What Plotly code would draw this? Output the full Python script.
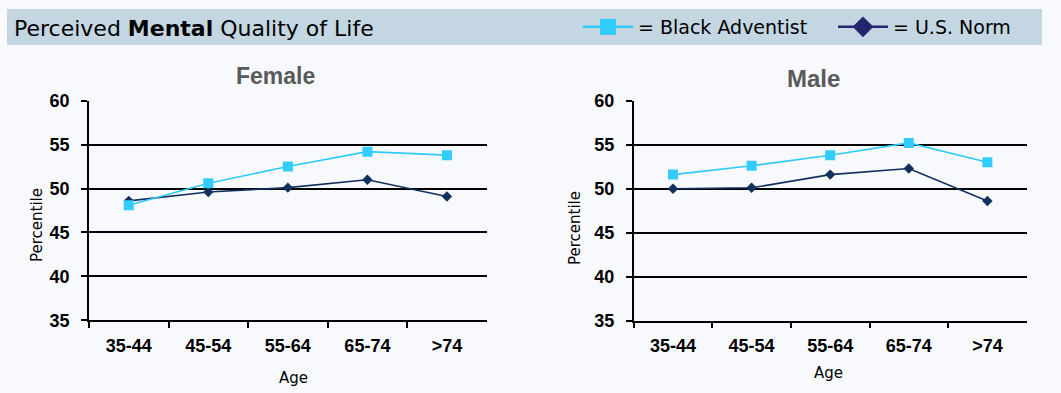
import plotly.graph_objects as go

W, H = 1061, 393

age_groups = ["35-44", "45-54", "55-64", "65-74", ">74"]
female_adventist = [48.1, 50.6, 52.5, 54.2, 53.8]
female_norm = [48.6, 49.6, 50.1, 51.0, 49.1]
male_adventist = [51.6, 52.6, 53.8, 55.2, 53.0]
male_norm = [50.0, 50.1, 51.6, 52.3, 48.6]
y_ticks = [35, 40, 45, 50, 55, 60]

BG = "#F8F9FD"
LIGHT = "#2ECBFA"
DARK = "#12305E"
LEG_DARK = "#24246F"

def px_x(p):
    return p / W

def px_y(p):
    return 1 - p / H

fig = go.Figure()

panels = [
    ("x", "y", female_adventist, female_norm),
    ("x2", "y2", male_adventist, male_norm),
]
for xa, ya, ad, nm in panels:
    fig.add_trace(go.Scatter(x=age_groups, y=nm, xaxis=xa, yaxis=ya, mode="lines+markers",
                             line=dict(color=DARK, width=1.6),
                             marker=dict(symbol="diamond", size=8, color=DARK),
                             showlegend=False, hoverinfo="skip"))
    fig.add_trace(go.Scatter(x=age_groups, y=ad, xaxis=xa, yaxis=ya, mode="lines+markers",
                             line=dict(color=LIGHT, width=1.6),
                             marker=dict(symbol="square", size=10, color="#33CCFF"),
                             showlegend=False, hoverinfo="skip"))

# legend-only entries
fig.add_trace(go.Scatter(x=[None], y=[None], mode="lines+markers", name="= Black Adventist",
                         line=dict(color="#33CCFF", width=2.5),
                         marker=dict(symbol="square", size=16, color="#33CCFF")))
fig.add_trace(go.Scatter(x=[None], y=[None], mode="lines+markers", name="= U.S. Norm",
                         line=dict(color=LEG_DARK, width=2.5),
                         marker=dict(symbol="diamond", size=16, color=LEG_DARK)))

xcommon = dict(type="category", categoryorder="array", categoryarray=age_groups,
               range=[-0.5, 4.5], showgrid=False, showline=True, linecolor="black", linewidth=1.5,
               ticks="outside", tickson="boundaries", ticklen=6, tickcolor="black", tickwidth=1.5,
               tickfont=dict(family="Liberation Sans", size=18, color="black", weight="bold"),
               ticklabelstandoff=8, fixedrange=True)
ycommon = dict(range=[35, 60], tickvals=y_ticks, showgrid=True, gridcolor="black", gridwidth=1.5,
               showline=True, linecolor="black", linewidth=1.5, zeroline=False,
               ticks="outside", ticklen=6, tickcolor="black", tickwidth=1.5,
               tickfont=dict(family="Liberation Sans", size=18, color="black", weight="bold"),
               ticklabelstandoff=8, fixedrange=True)

fig.update_layout(
    width=W, height=H, autosize=False,
    margin=dict(l=0, r=0, t=0, b=0, autoexpand=False),
    paper_bgcolor=BG, plot_bgcolor=BG,
    xaxis=dict(domain=[px_x(89), px_x(486.7)], anchor="y", **xcommon),
    yaxis=dict(domain=[px_y(320.3), px_y(100.7)], anchor="x", **ycommon),
    xaxis2=dict(domain=[px_x(633.7), px_x(1026.7)], anchor="y2", **xcommon),
    yaxis2=dict(domain=[px_y(320.7), px_y(100.7)], anchor="x2", **ycommon),
    showlegend=True,
    legend=dict(orientation="h", x=px_x(578), xanchor="left", y=px_y(27), yanchor="middle",
                bgcolor="rgba(0,0,0,0)", font=dict(family="DejaVu Sans", size=19, color="black"),
                itemwidth=50, entrywidth=190, entrywidthmode="pixels",
                itemclick=False, itemdoubleclick=False),
)

fig.add_shape(type="rect", xref="paper", yref="paper", x0=px_x(7), x1=px_x(1042),
              y0=px_y(45), y1=px_y(9), fillcolor="#C3D6E1", line=dict(width=0), layer="below")

ann = []
ann.append(dict(text="Perceived <b>Mental</b> Quality of Life", x=px_x(12), y=px_y(29), xanchor="left",
                yanchor="middle", font=dict(family="DejaVu Sans", size=22, color="black")))
ann.append(dict(text="<b>Female</b>", x=px_x(275), y=px_y(76), xanchor="center", yanchor="middle",
                font=dict(family="Liberation Sans", size=23, color="#595959")))
ann.append(dict(text="<b>Male</b>", x=px_x(813), y=px_y(78), xanchor="center", yanchor="middle",
                font=dict(family="Liberation Sans", size=24, color="#595959")))
ann.append(dict(text="Percentile", x=px_x(37), y=px_y(225), textangle=-90, xanchor="center", yanchor="middle",
                font=dict(family="DejaVu Sans", size=15, color="black")))
ann.append(dict(text="Percentile", x=px_x(575), y=px_y(228), textangle=-90, xanchor="center", yanchor="middle",
                font=dict(family="DejaVu Sans", size=15, color="black")))
ann.append(dict(text="Age", x=px_x(293), y=px_y(378), xanchor="center", yanchor="middle",
                font=dict(family="DejaVu Sans", size=15, color="black")))
ann.append(dict(text="Age", x=px_x(828), y=px_y(373), xanchor="center", yanchor="middle",
                font=dict(family="DejaVu Sans", size=15, color="black")))
for a in ann:
    a.update(xref="paper", yref="paper", showarrow=False)
fig.update_layout(annotations=ann)

fig.write_html("out.html", config={"displayModeBar": False},
               post_script="document.body.style.margin='0';document.body.style.overflow='hidden';")
